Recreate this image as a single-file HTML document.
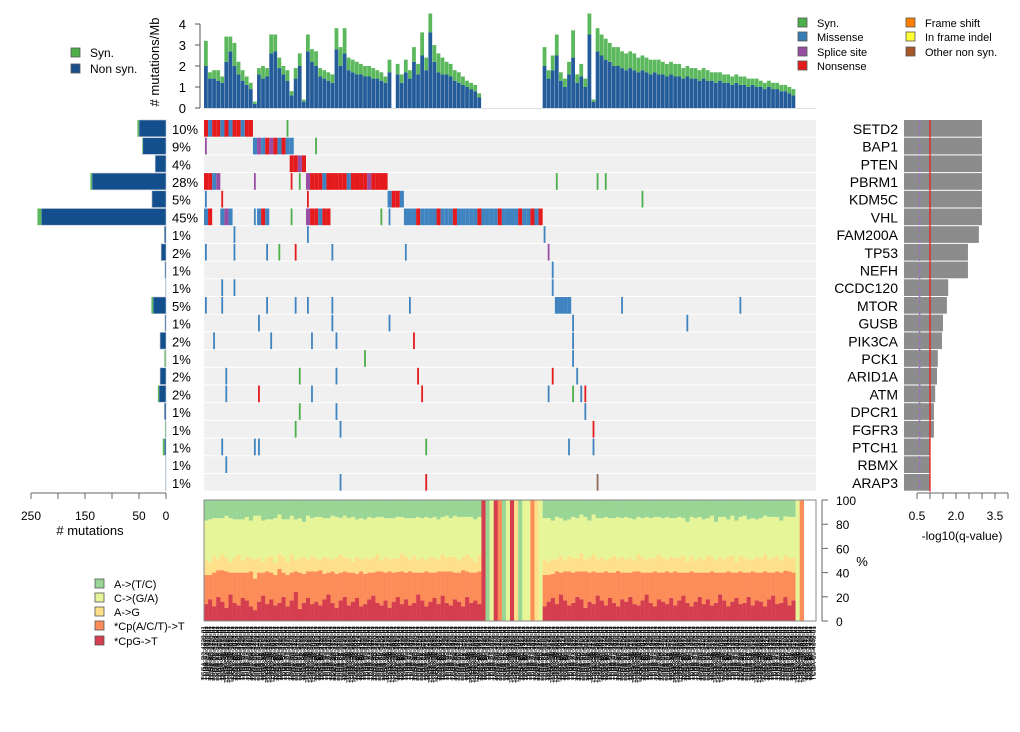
<!DOCTYPE html>
<html><head><meta charset="utf-8"><style>
html,body{margin:0;padding:0;background:#fff;}
svg{display:block;font-family:"Liberation Sans",sans-serif;}
</style></head><body>
<svg id="c" width="1020" height="732" viewBox="0 0 1020 732" xmlns="http://www.w3.org/2000/svg"></svg>
<script>
const genes=["SETD2","BAP1","PTEN","PBRM1","KDM5C","VHL","FAM200A","TP53","NEFH","CCDC120","MTOR","GUSB","PIK3CA","PCK1","ARID1A","ATM","DPCR1","FGFR3","PTCH1","RBMX","ARAP3"];
const pct=[10,9,4,28,5,45,1,2,1,1,5,1,2,1,2,2,1,1,1,1,1];
const geneNonSyn=[50,43,20,137,26,231,3,9,2,1,24,2,11,1,11,13,3,1,3,1,1];
const geneSyn=[3,1,0,3,0,7,0,0,0,0,3,0,0,2,0,2,0,1,3,0,0];
const qval=[3.0,3.0,3.0,3.0,3.0,3.0,2.88,2.46,2.46,1.7,1.65,1.5,1.46,1.3,1.27,1.2,1.15,1.15,1.0,1.0,1.0];
const qTicks=[0.5,1.0,1.5,2.0,2.5,3.0,3.5,4.0];
const qLabels=["0.5","2.0","3.5"];
const burdenTicks=[0,1,2,3,4];
const countTicks=[250,200,150,100,50,0];
const countLabels=[250,150,50,0];
const pctTicks=[0,20,40,60,80,100];
const sampleNonSyn=[2.0,1.4,1.4,1.3,1.2,2.2,2.7,2.0,1.6,1.3,1.1,0.9,0.2,1.6,1.4,1.5,2.6,2.7,1.9,1.6,1.3,0.6,1.4,2.0,0.3,2.7,2.2,2.0,1.5,1.4,1.3,1.2,2.8,2.0,2.6,1.8,1.7,1.6,1.6,1.5,1.5,1.4,1.4,1.3,1.2,1.7,0,1.6,1.2,1.7,1.4,2.2,1.6,2.5,1.8,3.6,2.2,1.7,1.6,1.6,1.5,1.3,1.2,1.1,1.0,0.9,0.8,0.5,
0,0,0,0,0,0,0,0,0,0,0,0,0,0,0,
2.0,1.4,1.8,2.5,1.3,1.0,1.6,2.4,1.2,1.5,1.0,3.5,0.3,
2.7,2.5,2.3,2.2,2.0,2.0,1.9,1.8,1.9,1.8,1.7,1.8,1.7,1.6,1.7,1.6,1.6,1.5,1.6,1.5,1.5,1.4,1.5,1.4,1.4,1.3,1.4,1.3,1.3,1.2,1.3,1.2,1.2,1.1,1.2,1.1,1.1,1.0,1.1,1.0,1.0,0.9,1.0,0.9,0.9,0.8,0.8,0.7,0.6,
0,0,0,0,0];
const sampleSyn=[1.2,0.3,0.4,0.5,0.3,1.2,0.7,1.1,0.6,0.5,0.4,0.3,0.1,0.3,0.6,0.4,0.9,0.8,0.5,0.4,0.5,0.2,0.5,0.6,0.1,0.8,0.6,0.7,0.4,0.4,0.4,0.4,1.0,0.9,1.2,0.6,0.6,0.6,0.5,0.5,0.5,0.5,0.4,0.4,0.3,0.6,0,0.5,0.4,0.6,0.4,0.7,0.5,1.1,0.6,0.9,0.8,0.9,0.8,0.6,0.6,0.5,0.5,0.4,0.3,0.3,0.3,0.2,
0,0,0,0,0,0,0,0,0,0,0,0,0,0,0,
0.9,0.4,0.7,1.0,0.4,0.4,0.6,1.3,0.4,0.6,0.4,1.0,0.1,
1.1,1.0,1.0,0.9,0.9,0.9,0.8,0.8,0.8,0.8,0.7,0.7,0.7,0.7,0.6,0.7,0.6,0.6,0.6,0.6,0.6,0.5,0.5,0.5,0.5,0.5,0.5,0.5,0.4,0.5,0.4,0.4,0.4,0.4,0.4,0.4,0.4,0.4,0.3,0.4,0.3,0.3,0.3,0.3,0.3,0.3,0.3,0.3,0.3,
0,0,0,0,0];
const specCpG=[14,18,12,20,16,11,22,15,13,19,17,12,9,16,21,14,18,13,15,20,12,17,24,10,15,19,14,16,13,18,22,15,11,17,20,13,16,19,12,14,18,21,15,13,17,11,16,20,14,18,13,15,22,17,12,16,19,14,21,15,13,18,16,12,20,15,17,14,
100,0,0,100,0,0,0,100,0,0,0,0,0,0,0,
12,16,19,14,22,17,13,15,20,18,11,16,14,21,17,13,19,15,12,18,16,20,14,13,17,22,15,12,18,16,14,19,13,17,21,15,12,16,20,14,18,13,15,22,17,12,16,19,14,15,20,13,17,16,12,18,21,14,15,19,13,17,
0,0,0,0,0];
const specCpACT=[24,20,28,22,26,30,18,25,27,21,23,29,26,24,19,27,22,25,28,20,26,23,17,30,24,22,27,25,29,21,18,26,28,23,21,27,24,20,29,25,22,19,26,28,23,30,24,21,27,22,28,25,18,23,29,24,21,27,20,26,28,22,24,30,21,25,23,27,
0,0,0,0,100,0,0,0,0,0,0,0,100,0,0,
26,22,20,27,18,24,28,25,21,23,30,24,27,19,23,28,21,25,29,22,24,20,27,28,23,18,25,29,22,24,27,21,28,23,19,25,29,24,20,26,22,28,25,18,23,29,24,21,27,25,20,28,23,24,29,22,19,27,25,21,28,23,
0,100,0,0,0];
const specAG=[12,10,14,9,13,11,8,12,15,10,13,11,16,12,9,11,14,10,12,13,11,15,9,12,14,10,13,11,9,14,12,10,13,15,11,12,9,14,10,13,11,12,14,9,13,10,12,11,15,13,10,14,11,12,9,13,12,10,14,11,12,13,10,11,14,12,9,13,
0,0,0,0,0,0,0,0,100,0,0,0,0,100,0,
13,11,12,10,14,9,13,12,11,15,10,12,14,11,13,9,12,14,10,13,11,12,9,14,13,10,12,11,15,12,10,13,11,12,14,9,13,10,12,11,14,12,10,13,11,12,14,9,13,12,11,10,13,12,14,11,12,13,10,12,11,13,
0,0,0,0,0];
const specCGA=[33,36,31,34,30,35,37,32,29,34,33,31,36,35,34,32,30,37,33,31,35,32,34,33,29,36,31,34,35,32,33,36,34,30,35,33,37,31,34,32,35,33,31,36,32,34,33,35,30,32,34,31,35,33,36,32,34,33,31,35,32,34,36,33,31,34,35,32,
0,0,100,0,0,0,100,0,0,0,100,100,0,0,100,
34,36,32,35,31,33,30,34,33,32,35,31,33,34,32,36,33,31,34,32,35,33,34,31,32,36,33,34,31,33,35,32,33,34,31,33,32,35,34,33,31,34,32,33,35,31,33,34,32,35,33,34,31,33,32,35,34,32,33,31,34,33,
100,0,0,0,0];
const specATC=[17,16,15,15,15,13,15,16,16,16,14,17,13,13,17,16,16,15,12,16,16,13,16,15,18,13,15,14,14,15,15,13,14,15,13,15,14,16,15,16,14,15,14,14,15,15,15,14,14,15,15,15,14,15,14,15,14,16,14,13,15,13,14,14,14,14,16,14,
0,100,0,0,0,100,0,0,0,100,0,0,0,0,0,
15,15,17,14,15,17,16,14,15,12,14,17,12,15,15,14,15,15,14,15,14,15,16,14,15,14,15,14,14,15,14,15,15,14,15,18,14,15,14,16,15,13,18,14,14,16,13,17,14,13,16,15,16,15,13,14,14,14,17,13,14,14,
0,0,0,0,0];
const events=[
[[0,"nmnnmnmnnmnn"],[20,"y"]],
[[0,"s"],[12,"msmnsnmnmm"],[27,"y"]],
[[21,"nnsn"]],
[[0,"nnms"],[12,"s"],[21,"n"],[23,"y"],[25,"snnnmnnnnnmnnnnsnnnn"],[86,"y"],[96,"y"],[98,"y"]],
[[0,"m"],[4,"n"],[25,"n"],[45,"mnnm"],[107,"y"]],
[[0,"mn"],[4,"msm"],[12,"m"],[13,"mnm"],[21,"y"],[25,"snnmnn"],[43,"y"],[45,"m"],[49,"mmmnmmmmnmmmnmmmmmnmmmmnmmmmnmmnmn"]],
[[7,"m"],[25,"m"],[83,"m"]],
[[0,"m"],[7,"m"],[15,"m"],[18,"y"],[22,"n"],[31,"m"],[49,"m"],[84,"s"]],
[[85,"m"]],
[[4,"m"],[7,"m"],[85,"m"]],
[[0,"m"],[4,"m"],[15,"m"],[22,"m"],[25,"m"],[31,"m"],[50,"m"],[86,"mmmm"],[102,"m"],[131,"m"]],
[[13,"m"],[31,"m"],[45,"m"],[90,"m"],[118,"m"]],
[[2,"m"],[16,"m"],[26,"m"],[32,"m"],[51,"n"],[90,"m"]],
[[39,"y"],[90,"m"]],
[[5,"m"],[23,"y"],[32,"m"],[52,"n"],[85,"n"],[91,"m"]],
[[5,"m"],[13,"n"],[26,"m"],[53,"n"],[84,"m"],[90,"y"],[92,"m"],[93,"n"]],
[[23,"y"],[32,"m"],[93,"m"]],
[[22,"y"],[33,"m"],[95,"n"]],
[[4,"m"],[12,"m"],[13,"m"],[54,"y"],[89,"m"],[95,"m"]],
[[5,"m"]],
[[33,"m"],[54,"n"],[96,"o"]]
];
const sampleIds=["B0-4700","CJ-4642","A3-3320","BP-4159","CZ-5463","AK-3456","B8-4143","CW-5580","B2-3923","BP-4342"];

const svg=document.getElementById('c');
const NS="http://www.w3.org/2000/svg";
function mk(tag,attrs,parent){const e=document.createElementNS(NS,tag);for(const k in attrs)e.setAttribute(k,attrs[k]);(parent||svg).appendChild(e);return e;}
function tx(x,y,s,size,anchor,parent){const e=mk('text',{x:x,y:y,'font-size':size,'text-anchor':anchor||'start',fill:'#000'},parent);e.textContent=s;return e;}

const N=sampleNonSyn.length;
const X0=204,X1=816,W=(X1-X0)/N;
const sx=i=>X0+i*W;
const ROW0=120,RH=17.7;
const ry=g=>ROW0+g*RH;
const by=v=>108-v*21;
const cx=v=>166-v*0.54;
const qx=v=>904+v*26;
const py=v=>621-v*1.21;
const mutCol={m:"#3f84c0",n:"#e41a1c",s:"#984ea3",y:"#4daf4a",o:"#8c6d5a"};

// top burden chart
const gTop=mk('g',{});


mk('line',{x1:X0,y1:108.5,x2:X1,y2:108.5,stroke:'#ddd','stroke-width':1},gTop);
for(let i=0;i<N;i++){
  const ns=sampleNonSyn[i],sy=sampleSyn[i];
  if(ns+sy<=0)continue;
  const b=mk('rect',{x:sx(i),y:by(ns),width:W-0.3,height:108-by(ns),fill:'#245c9a'},gTop);
  
  
  const s=mk('rect',{x:sx(i),y:by(ns+sy),width:W-0.3,height:by(ns)-by(ns+sy),fill:'#5cb85c'},gTop);
  
  
}
mk('line',{x1:200,y1:by(0),x2:200,y2:by(4),stroke:'#555'},gTop);
burdenTicks.forEach(t=>{mk('line',{x1:195,y1:by(t),x2:200,y2:by(t),stroke:'#555'},gTop);tx(186,by(t)+5,String(t),13,'end',gTop);});
const yl=tx(0,0,"# mutations/Mb",13,'middle',gTop);
yl.setAttribute('transform','translate(159,62) rotate(-90)');



// top-left legend
[["Syn.","#4daf4a",53],["Non syn.","#1a4f8b",69]].forEach(d=>{
  const r=mk('rect',{x:71,y:d[2]-5,width:9,height:9,fill:d[1],stroke:'#555','stroke-width':0.8});
  
  
  tx(90,d[2]+4,d[0],12);
});
// top-right legend
[["Syn.","#4daf4a",808,22],["Missense","#377eb8",808,36],["Splice site","#984ea3",808,51],["Nonsense","#e41a1c",808,65],["Frame shift","#ff7f00",916,22],["In frame indel","#ffff33",916,36],["Other non syn.","#a65628",916,51]].forEach(d=>{
  const r=mk('rect',{x:d[2]-10,y:d[3]-4,width:9,height:9,fill:d[1],stroke:'#555','stroke-width':0.8});
  
  
  tx(d[2]+9,d[3]+5,d[0],11);
});

// grid
const gGrid=mk('g',{});


genes.forEach((g,gi)=>{
  const bg=mk('rect',{x:X0,y:ry(gi),width:X1-X0,height:RH-1,fill:'#f0f0f0'},gGrid);
  
  
  events[gi].forEach(ev=>{
    const st=ev[0],p=ev[1];
    for(let k=0;k<p.length;k++){
      const w=p.length===1?1.8:W;
      const c=mk('rect',{x:sx(st+k)+(p.length===1?1:0),y:ry(gi),width:w,height:RH-1,fill:mutCol[p[k]]},gGrid);
      
      
    }
  });
  const pl=tx(172,ry(gi)+RH/2+5,pct[gi]+"%",13,'start');
  
  
  const gl=tx(898,ry(gi)+RH/2+5,g,14,'end');
  
  
  // left count bars
  const nb=mk('rect',{x:cx(geneNonSyn[gi]),y:ry(gi),width:166-cx(geneNonSyn[gi]),height:RH-1,fill:'#134f8c',stroke:'#b8c4d4','stroke-width':0.6});
  
  
  if(geneSyn[gi]>0){
    const x2=cx(geneNonSyn[gi]);const x1=cx(geneNonSyn[gi]+geneSyn[gi]);
    const sb=mk('rect',{x:x1,y:ry(gi),width:x2-x1,height:RH-1,fill:'#5cb85c'});
    
    
  }
  // q bars
  const qb=mk('rect',{x:904,y:ry(gi),width:qx(qval[gi])-904,height:RH-1,fill:'#8c8c8c'});
  
  
});
mk('line',{x1:qx(0.6),y1:ROW0,x2:qx(0.6),y2:ROW0+21*RH,stroke:'#9a6fc8','stroke-width':1.5,'stroke-dasharray':'3,3'});
mk('line',{x1:qx(1.0),y1:ROW0,x2:qx(1.0),y2:ROW0+21*RH,stroke:'#e41a1c','stroke-width':1.2});

// left count axis
const axY=493;
mk('line',{x1:cx(250),y1:axY,x2:166,y2:axY,stroke:'#666'});
countTicks.forEach(t=>mk('line',{x1:cx(t),y1:axY,x2:cx(t),y2:axY+6,stroke:'#666'}));
countLabels.forEach(t=>tx(cx(t),520,String(t),12,'middle'));
const xt=tx(90,535,"# mutations",13,'middle');



// q axis
mk('line',{x1:qx(0.5),y1:axY,x2:qx(4.0),y2:axY,stroke:'#666'});
qTicks.forEach(t=>mk('line',{x1:qx(t),y1:axY,x2:qx(t),y2:axY+6,stroke:'#666'}));
qLabels.forEach(t=>tx(qx(parseFloat(t)),520,t,12,'middle'));
const qt=tx(962,540,"-log10(q-value)",12,'middle');



// spectrum
const gSp=mk('g',{});


const specSeries=[[specCpG,"#d53e4f"],[specCpACT,"#fc8d59"],[specAG,"#fee08b"],[specCGA,"#e6f598"],[specATC,"#99d594"]];
for(let i=0;i<N;i++){
  let tot=0;specSeries.forEach(s=>tot+=s[0][i]);
  if(tot<=0)continue;
  let acc=0;
  specSeries.forEach(s=>{
    const v=s[0][i]/tot*100;if(v<=0)return;
    const r=mk('rect',{x:sx(i),y:py(acc+v),width:W+0.2,height:py(acc)-py(acc+v),fill:s[1]},gSp);
    
    
    acc+=v;
  });
}
mk('rect',{x:X0,y:500,width:X1-X0,height:121,fill:'none',stroke:'#888','stroke-width':1},gSp);
mk('line',{x1:822,y1:py(0),x2:822,y2:py(100),stroke:'#666'},gSp);
pctTicks.forEach(t=>{mk('line',{x1:822,y1:py(t),x2:828,y2:py(t),stroke:'#666'},gSp);tx(836,py(t)+5,String(t),12,'start',gSp);});
tx(862,566,"%",13,'middle',gSp);

// bottom legend
[["A->(T/C)","#99d594",583],["C->(G/A)","#e6f598",597],["A->G","#fee08b",611],["*Cp(A/C/T)->T","#fc8d59",625],["*CpG->T","#d53e4f",640]].forEach(d=>{
  const r=mk('rect',{x:95,y:d[2]-4,width:9,height:9,fill:d[1],stroke:'#555','stroke-width':0.8});
  
  
  tx(114,d[2]+5,d[0],11);
});

// sample labels
const gLab=mk('g',{});


for(let i=0;i<N;i++){
  for(let k=0;k<3;k++){
    const x=sx(i)+k*W/3+1.5;
    const t=tx(0,0,"TCGA-"+sampleIds[(i+k)%sampleIds.length]+"-01",6.5,'end',gLab);
    t.setAttribute('transform','translate('+x+',626) rotate(-90)');
  }
}
</script>
</body></html>
